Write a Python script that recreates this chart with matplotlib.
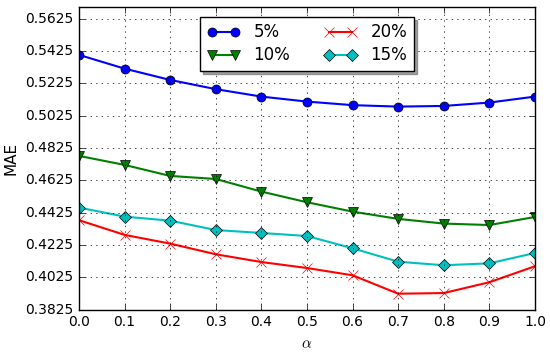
import matplotlib
matplotlib.use('Agg')
from matplotlib import pyplot as plt

plt.style.use('classic')

alpha = [0.0, 0.1, 0.2, 0.3, 0.4, 0.5, 0.6, 0.7, 0.8, 0.9, 1.0]
mae_5 = [0.5402, 0.5317, 0.5247, 0.5190, 0.5144, 0.5113, 0.5091, 0.5082, 0.5086, 0.5107, 0.5144]
mae_10 = [0.4777, 0.4721, 0.4653, 0.4634, 0.4556, 0.4490, 0.4432, 0.4387, 0.4358, 0.4349, 0.4399]
mae_20 = [0.4379, 0.4288, 0.4234, 0.4168, 0.4120, 0.4083, 0.4038, 0.3924, 0.3928, 0.3995, 0.4094]
mae_15 = [0.4457, 0.4401, 0.4376, 0.4318, 0.4300, 0.4281, 0.4205, 0.4122, 0.4100, 0.4112, 0.4176]
yticks = [0.3825, 0.4025, 0.4225, 0.4425, 0.4625, 0.4825, 0.5025, 0.5225, 0.5425, 0.5625]

fig = plt.figure(figsize=(5.5, 3.55), dpi=100)
ax = fig.add_subplot(111)
fig.subplots_adjust(left=0.1436, right=0.9727, top=0.981, bottom=0.1276)

ax.plot(alpha, mae_5, 'b-o', lw=1.5, ms=6.5, label='5%')
ax.plot(alpha, mae_10, 'g-v', lw=1.5, ms=6.5, label='10%')
ax.plot(alpha, mae_20, 'r-x', lw=1.5, ms=6.5, mec='r', label='20%')
ax.plot(alpha, mae_15, 'c-D', lw=1.5, ms=6.5, label='15%')

ax.set_xlim(0, 1)
ax.set_ylim(0.3825, 0.57)
ax.set_xticks(alpha)
ax.set_yticks(yticks)
ax.set_yticklabels(['%.4f' % v for v in yticks])
ax.tick_params(labelsize=10)
ax.grid(True)
ax.set_xlabel(r'$\alpha$', fontsize=11)
ax.set_ylabel('MAE', fontsize=11)

ax.legend(loc='upper center', ncol=2, fontsize=12, shadow=True, numpoints=2,
          labelspacing=0.3, borderaxespad=0.6)

plt.savefig('out.png', dpi=100)
